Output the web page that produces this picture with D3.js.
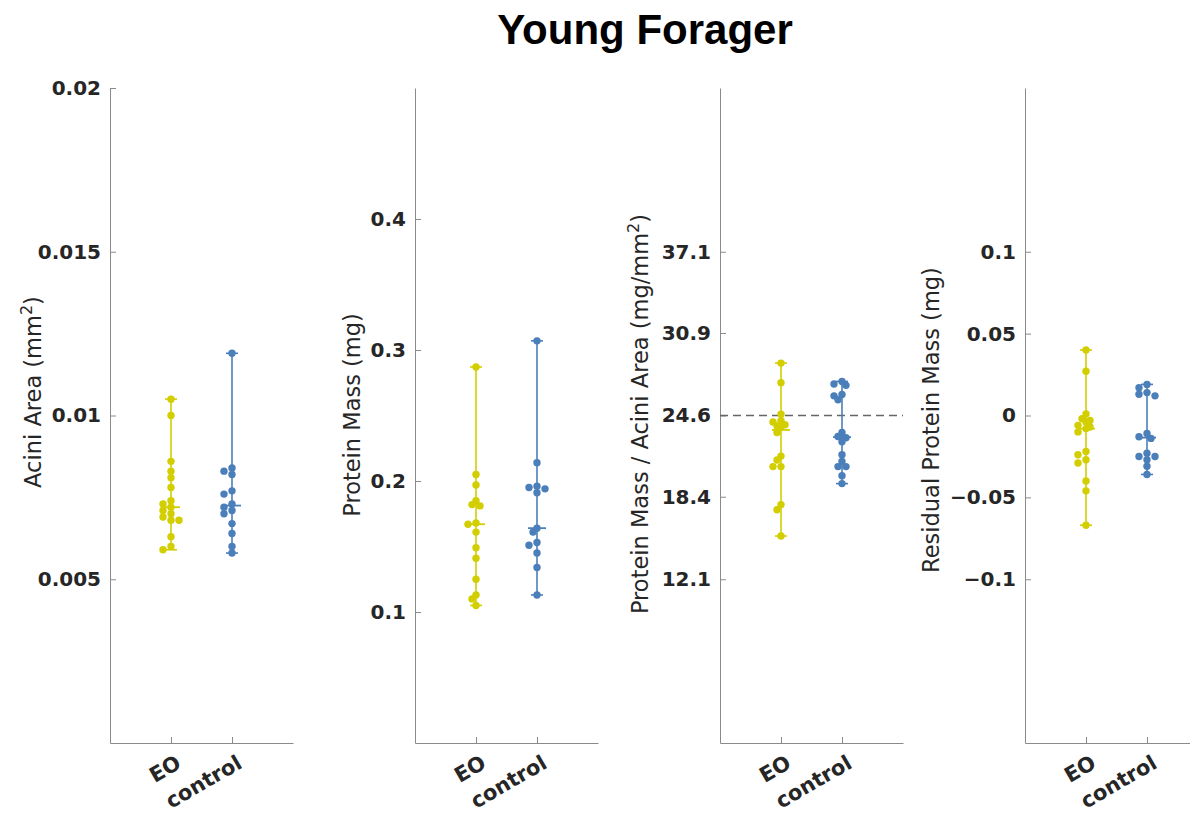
<!DOCTYPE html>
<html>
<head>
<meta charset="utf-8">
<script src="https://cdn.jsdelivr.net/npm/d3@7"></script>
<style>
	body { margin: 0; background: #fff; }
	text { fill: #262626; }
</style>
</head>
<body>
<svg id="chart" width="1190" height="813"></svg>
<script>
// groups on the x axis
var groups = ["EO", "control"];

// Acini area (mm^2)
var areaEO = [0.0105, 0.0100, 0.0086, 0.0083, 0.0081, 0.0078, 0.0074, 0.0073, 0.0072, 0.0071, 0.0070, 0.0069, 0.0068, 0.0068, 0.0063, 0.0060, 0.0059];
var areaControl = [0.0119, 0.0084, 0.0083, 0.0082, 0.0077, 0.0076, 0.0073, 0.0072, 0.0071, 0.0070, 0.0067, 0.0064, 0.0060, 0.0058];

// Protein mass (mg)
var massEO = [0.287, 0.205, 0.197, 0.185, 0.182, 0.181, 0.168, 0.167, 0.161, 0.149, 0.141, 0.125, 0.113, 0.110, 0.105];
var massControl = [0.307, 0.214, 0.196, 0.195, 0.194, 0.191, 0.164, 0.161, 0.153, 0.151, 0.145, 0.134, 0.113];

// Protein mass / acini area (mg/mm^2)
var ratioEO = [28.6, 27.1, 24.7, 24.2, 24.1, 23.9, 23.8, 23.7, 23.3, 21.5, 21.2, 20.7, 20.7, 17.8, 17.4, 15.4];
var ratioControl = [27.2, 27.0, 26.9, 26.2, 26.1, 25.8, 23.3, 23.0, 22.9, 22.6, 21.6, 21.1, 20.7, 20.7, 20.0, 19.4];
var ratioRef = 24.6;

// Residual protein mass (mg)
var residEO = [0.040, 0.027, 0.001, -0.002, -0.003, -0.004, -0.006, -0.007, -0.008, -0.010, -0.022, -0.024, -0.027, -0.029, -0.040, -0.046, -0.067];
var residControl = [0.019, 0.017, 0.014, 0.013, 0.012, -0.011, -0.013, -0.014, -0.023, -0.025, -0.025, -0.027, -0.031, -0.036];

// y domains and tick labels
var areaDomain = [0, 0.02], areaTicks = [0.005, 0.01, 0.015, 0.02], areaLabels = ["0.005", "0.01", "0.015", "0.02"];
var massDomain = [0, 0.5], massTicks = [0.1, 0.2, 0.3, 0.4], massLabels = ["0.1", "0.2", "0.3", "0.4"];
var ratioDomain = [-0.4, 49.6], ratioTicks = [12.1, 18.4, 24.6, 30.9, 37.1], ratioLabels = ["12.1", "18.4", "24.6", "30.9", "37.1"];
var residDomain = [-0.2, 0.2], residTicks = [-0.1, -0.05, 0, 0.05, 0.1], residLabels = ["\u22120.1", "\u22120.05", "0", "0.05", "0.1"];

var panels = [
	{ label: ["Acini Area (mm", "2", ")"], data: [areaEO, areaControl], domain: areaDomain, ticks: areaTicks, tickLabels: areaLabels },
	{ label: ["Protein Mass (mg)"], data: [massEO, massControl], domain: massDomain, ticks: massTicks, tickLabels: massLabels },
	{ label: ["Protein Mass / Acini Area (mg/mm", "2", ")"], data: [ratioEO, ratioControl], domain: ratioDomain, ticks: ratioTicks, tickLabels: ratioLabels, refLine: ratioRef },
	{ label: ["Residual Protein Mass (mg)"], data: [residEO, residControl], domain: residDomain, ticks: residTicks, tickLabels: residLabels }
];

var colors = ["#d2ce00", "#4a7fba"];
var labelX = [33, 352, 640, 931];   // ylabel centre, set like matlab does
var labelY = [392, 415, 414, 420];

var svg = d3.select("#chart");

svg.append("text")
	.attr("x", 645)
	.attr("y", 44)
	.attr("text-anchor", "middle")
	.style("font-family", "Liberation Sans, Arial, sans-serif")
	.style("font-weight", "bold")
	.style("font-size", "42px")
	.style("fill", "#000")
	.text("Young Forager");

var plotTop = 88, plotBottom = 743, axisWidth = 183, panelStep = 305, left0 = 110;
var r = 3.7;

panels.forEach(function(p, i) {
	var left = left0 + i * panelStep;
	var g = svg.append("g").attr("transform", "translate(" + left + ",0)");

	var x = d3.scaleLinear().domain([0, 3]).range([0, axisWidth]);
	var y = d3.scaleLinear().domain(p.domain).range([plotBottom, plotTop]);

	// y axis, ticks inside
	var yAxis = d3.axisLeft(y)
		.tickValues(p.ticks)
		.tickFormat(function(d, k) { return p.tickLabels[k]; })
		.tickSizeInner(-6)
		.tickSizeOuter(0)
		.tickPadding(9);
	var ya = g.append("g").call(yAxis);
	ya.select(".domain").attr("stroke", "#8a8a8a");
	ya.selectAll(".tick line").attr("stroke", "#8a8a8a");
	ya.selectAll("text")
		.style("font-family", "DejaVu Sans, sans-serif")
		.style("font-weight", "bold")
		.style("font-size", "20px")
		.style("fill", "#262626");

	// x axis
	var xAxis = d3.axisBottom(x)
		.tickValues([1, 2])
		.tickFormat("")
		.tickSizeInner(-6)
		.tickSizeOuter(0);
	var xa = g.append("g").attr("transform", "translate(0," + plotBottom + ")").call(xAxis);
	xa.select(".domain").attr("stroke", "#8a8a8a");
	xa.selectAll(".tick line").attr("stroke", "#8a8a8a");

	groups.forEach(function(name, k) {
		g.append("text")
			.attr("transform", "translate(" + (x(k + 1) + 4) + "," + (plotBottom + 11) + ") rotate(-30)")
			.attr("text-anchor", "end")
			.attr("dy", "0.72em")
			.style("font-family", "DejaVu Sans, sans-serif")
			.style("font-weight", "bold")
			.style("font-size", "21px")
			.text(name);
	});

	// y label
	var lab = svg.append("text")
		.attr("transform", "translate(" + labelX[i] + "," + labelY[i] + ") rotate(-90)")
		.attr("text-anchor", "middle")
		.attr("dy", "0.35em")
		.style("font-family", "DejaVu Sans, sans-serif")
		.style("font-size", "22.5px");
	lab.append("tspan").text(p.label[0]);
	if (p.label.length > 1) {
		lab.append("tspan").attr("dy", -9).style("font-size", "16px").text(p.label[1]);
		lab.append("tspan").attr("dy", 9).text(p.label[2]);
	}

	// reference line
	if (p.refLine !== undefined) {
		g.append("line")
			.attr("x1", 0).attr("x2", axisWidth)
			.attr("y1", y(p.refLine)).attr("y2", y(p.refLine))
			.attr("stroke", "#666")
			.attr("stroke-width", 1.6)
			.attr("stroke-dasharray", "8,5");
	}

	p.data.forEach(function(vals, k) {
		var cx = x(k + 1);
		var col = colors[k];
		var lo = d3.min(vals), hi = d3.max(vals), med = d3.median(vals);

		g.append("line")
			.attr("x1", cx).attr("x2", cx)
			.attr("y1", y(lo)).attr("y2", y(hi))
			.attr("stroke", col).attr("stroke-width", 1.6);
		[lo, hi].forEach(function(v) {
			g.append("line")
				.attr("x1", cx - 6).attr("x2", cx + 6)
				.attr("y1", y(v)).attr("y2", y(v))
				.attr("stroke", col).attr("stroke-width", 1.6);
		});
		g.append("line")
			.attr("x1", cx - 9).attr("x2", cx + 9)
			.attr("y1", y(med)).attr("y2", y(med))
			.attr("stroke", col).attr("stroke-width", 1.8);

		// simple swarm so close points spread sideways
		var placed = [];
		var pts = vals.slice().sort(d3.descending).map(function(v) {
			var py = y(v);
			var offsets = [0, -4, 4, -8, 8];
			var dx = 0;
			for (var o = 0; o < offsets.length; o++) {
				var hit = placed.some(function(q) {
					return Math.hypot(q.dx - offsets[o], q.py - py) < 5.5;
				});
				if (!hit) { dx = offsets[o]; break; }
			}
			var pt = { dx: dx, py: py };
			placed.push(pt);
			return pt;
		});

		g.selectAll(".dot-" + k)
			.data(pts)
			.enter().append("circle")
			.attr("class", "dot-" + k)
			.attr("cx", function(d) { return cx + d.dx; })
			.attr("cy", function(d) { return d.py; })
			.attr("r", r)
			.style("fill", col);
	});
});
</script>
</body>
</html>
